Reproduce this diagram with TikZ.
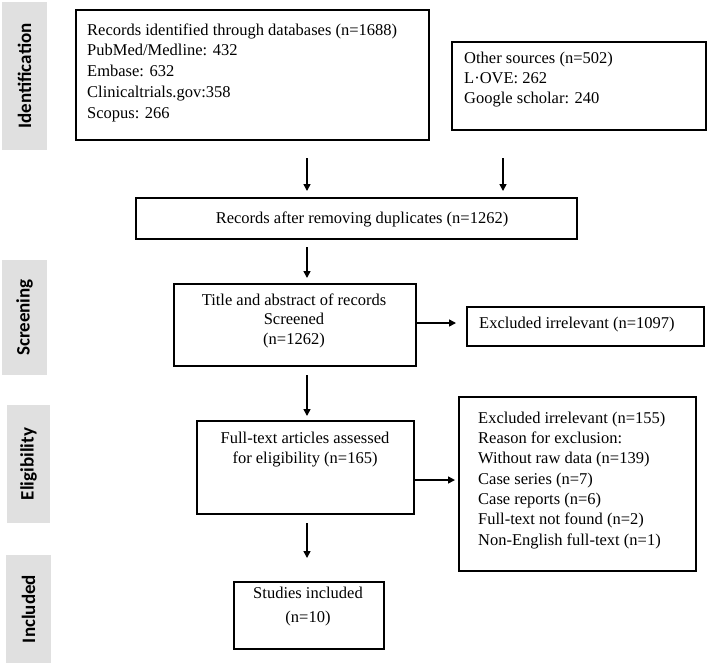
\documentclass[tikz,border=0pt]{standalone}
\usepackage{fontspec}
\setmainfont{Liberation Serif}
\newfontfamily\sidefont{Carlito}
\usetikzlibrary{arrows.meta}
\begin{document}
\begin{tikzpicture}[x=1pt,y=-1pt,
  box/.style={draw, line width=1.6pt, anchor=north west, inner sep=0pt},
  txt/.style={font=\fontsize{16.5}{20.4}\selectfont, inner sep=0pt},
  side/.style={fill=black!12, rotate=90, inner sep=0pt, font=\sidefont\bfseries\fontsize{19}{22}\selectfont},
  arr/.style={line width=1.5pt, -{Triangle[length=7pt,width=7pt]}}
]
\useasboundingbox (0,0) rectangle (708,665);
% side labels
\node[side, minimum width=148, minimum height=45] (sid) at (24.5,76) {Identification};
\node[side, minimum width=115, minimum height=45] (sscr) at (24.5,317.5) {Screening};
\node[side, minimum width=118, minimum height=43] (seli) at (28.5,464) {Eligibility};
\node[side, minimum width=108, minimum height=45] (sinc) at (28.5,609) {Included};
% boxes
\node[box, minimum width=353, minimum height=130] (b1) at (75,9) {};
\node[box, minimum width=254, minimum height=88] (b2) at (451,41) {};
\node[box, minimum width=441, minimum height=41] (b3) at (135,197) {};
\node[box, minimum width=242, minimum height=82] (b4) at (173,283) {};
\node[box, minimum width=237, minimum height=39] (b5) at (466,306) {};
\node[box, minimum width=217, minimum height=93] (b6) at (196,420) {};
\node[box, minimum width=237, minimum height=174] (b7) at (458,396) {};
\node[box, minimum width=150, minimum height=67] (b8) at (233,581) {};
% texts (anchored at the baseline of the last line)
\node[txt, anchor=base west, align=left, font=\fontsize{16.5}{20.7}\selectfont] (t1) at (87,118) {Records identified through databases (n=1688)\\PubMed/Medline: 432\\Embase: 632\\Clinicaltrials.gov:358\\Scopus: 266};
\node[txt, anchor=base west, align=left, font=\fontsize{16.5}{20}\selectfont] (t2) at (464,103) {Other sources (n=502)\\L·OVE: 262\\Google scholar: 240};
\node[txt, anchor=base] (t3) at (362,223) {Records after removing duplicates (n=1262)};
\node[txt, anchor=base, align=center, font=\fontsize{16.5}{19.2}\selectfont] (t4) at (294,344) {Title and abstract of records\\Screened\\(n=1262)};
\node[txt, anchor=base west] (t5) at (479,328) {Excluded irrelevant (n=1097)};
\node[txt, anchor=base, align=center, font=\fontsize{16.5}{20}\selectfont] (t6) at (305,463) {Full-text articles assessed\\for eligibility (n=165)};
\node[txt, anchor=base west, align=left, font=\fontsize{16.5}{20.3}\selectfont] (t7) at (478,545) {Excluded irrelevant (n=155)\\Reason for exclusion:\\Without raw data (n=139)\\Case series (n=7)\\Case reports (n=6)\\Full-text not found (n=2)\\Non-English full-text (n=1)};
\node[txt, anchor=base, align=center, font=\fontsize{16.5}{24}\selectfont] (t8) at (308,622) {Studies included\\(n=10)};
% arrow end points
\coordinate (a1s) at (307,158); \coordinate (a1e) at (307,191);
\coordinate (a2s) at (503,158); \coordinate (a2e) at (503,191);
\coordinate (a3s) at (307,247); \coordinate (a3e) at (307,278);
\coordinate (a4s) at (307,375); \coordinate (a4e) at (307,416);
\coordinate (a5s) at (307,523); \coordinate (a5e) at (307,558);
\coordinate (h1) at (456,323);
\coordinate (h2) at (455,480);
\draw[arr] (a1s) -- (a1e);
\draw[arr] (a2s) -- (a2e);
\draw[arr] (a3s) -- (a3e);
\draw[arr] (a4s) -- (a4e);
\draw[arr] (a5s) -- (a5e);
\draw[arr] (b4.east |- h1) -- (h1);
\draw[arr] (b6.east |- h2) -- (h2);
\end{tikzpicture}
\end{document}
